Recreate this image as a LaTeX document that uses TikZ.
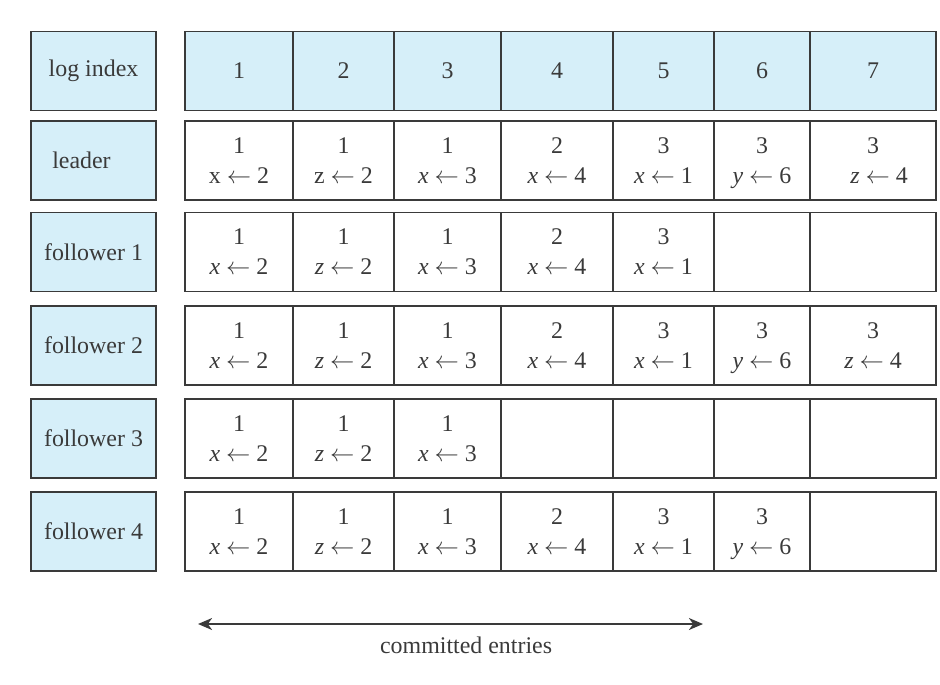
\documentclass[tikz,border=0pt]{standalone}
\usepackage{fontspec}
\setmainfont{Liberation Serif}
\usetikzlibrary{arrows.meta, positioning}
\definecolor{cellblue}{HTML}{D6EFF9}
\definecolor{ink}{HTML}{3A3A3A}

\begin{document}
\begin{tikzpicture}[x=0.025cm, y=-0.025cm, >={Stealth[length=10pt, width=8.5pt, inset=3pt]},
    text=ink, font=\fontsize{17}{21.3}\selectfont]
    \tikzstyle{rowname} = [draw=ink, fill=cellblue, line width=0.9pt, minimum width=3.125cm,
        minimum height=1.975cm, inner sep=0pt, align=center]
    \tikzstyle{entry} = [draw=ink, line width=1.2pt, minimum height=1.975cm, inner sep=0pt,
        align=center, text height=1.175cm, text depth=0.05cm]
    \useasboundingbox (0,0) rectangle (940,684);
    % row names
    \node [rowname] at (93.5,71) (idx) {log index};
    \node [rowname] at (93.5,160.5) (leader) {leader\hspace*{0.6cm}};
    \node [rowname] at (93.5,252) (f1) {follower 1};
    \node [rowname] at (93.5,345.5) (f2) {follower 2};
    \node [rowname] at (93.5,438.5) (f3) {follower 3};
    \node [rowname] at (93.5,531.5) (f4) {follower 4};
    % log entries, columns have their own widths
    \foreach \t [count=\c] in {1,2,3,4,5,6,7} {
        \pgfmathsetmacro\cx{{239,343.5,447.5,557,663.5,762,873}[\c-1]}
        \pgfmathsetmacro\cw{{108,101,107,112,101,96,126}[\c-1]}
        \node [entry, fill=cellblue, minimum width=\cw*0.025cm, text height=, text depth=]
            at (\cx,71) (e0-\c) {\t};
    }
    \foreach \t [count=\c] in {{1\\x $\leftarrow$ 2}, {1\\z $\leftarrow$ 2},
        {1\\\textit{x} $\leftarrow$ 3}, {2\\\textit{x} $\leftarrow$ 4},
        {3\\\textit{x} $\leftarrow$ 1}, {3\\\textit{y} $\leftarrow$ 6},
        {3\\\hspace*{0.3cm}\textit{z} $\leftarrow$ 4}} {
        \pgfmathsetmacro\cx{{239,343.5,447.5,557,663.5,762,873}[\c-1]}
        \pgfmathsetmacro\cw{{108,101,107,112,101,96,126}[\c-1]}
        \node [entry, minimum width=\cw*0.025cm] at (\cx,160.5) (e1-\c) {\t};
    }
    \foreach \t [count=\c] in {{1\\\textit{x} $\leftarrow$ 2}, {1\\\textit{z} $\leftarrow$ 2},
        {1\\\textit{x} $\leftarrow$ 3}, {2\\\textit{x} $\leftarrow$ 4},
        {3\\\textit{x} $\leftarrow$ 1}, {}, {}} {
        \pgfmathsetmacro\cx{{239,343.5,447.5,557,663.5,762,873}[\c-1]}
        \pgfmathsetmacro\cw{{108,101,107,112,101,96,126}[\c-1]}
        \node [entry, minimum width=\cw*0.025cm] at (\cx,252) (e2-\c) {\t};
    }
    \foreach \t [count=\c] in {{1\\\textit{x} $\leftarrow$ 2}, {1\\\textit{z} $\leftarrow$ 2},
        {1\\\textit{x} $\leftarrow$ 3}, {2\\\textit{x} $\leftarrow$ 4},
        {3\\\textit{x} $\leftarrow$ 1}, {3\\\textit{y} $\leftarrow$ 6},
        {3\\\textit{z} $\leftarrow$ 4}} {
        \pgfmathsetmacro\cx{{239,343.5,447.5,557,663.5,762,873}[\c-1]}
        \pgfmathsetmacro\cw{{108,101,107,112,101,96,126}[\c-1]}
        \node [entry, minimum width=\cw*0.025cm] at (\cx,345.5) (e3-\c) {\t};
    }
    \foreach \t [count=\c] in {{1\\\textit{x} $\leftarrow$ 2}, {1\\\textit{z} $\leftarrow$ 2},
        {1\\\textit{x} $\leftarrow$ 3}, {}, {}, {}, {}} {
        \pgfmathsetmacro\cx{{239,343.5,447.5,557,663.5,762,873}[\c-1]}
        \pgfmathsetmacro\cw{{108,101,107,112,101,96,126}[\c-1]}
        \node [entry, minimum width=\cw*0.025cm] at (\cx,438.5) (e4-\c) {\t};
    }
    \foreach \t [count=\c] in {{1\\\textit{x} $\leftarrow$ 2}, {1\\\textit{z} $\leftarrow$ 2},
        {1\\\textit{x} $\leftarrow$ 3}, {2\\\textit{x} $\leftarrow$ 4},
        {3\\\textit{x} $\leftarrow$ 1}, {3\\\textit{y} $\leftarrow$ 6}, {}} {
        \pgfmathsetmacro\cx{{239,343.5,447.5,557,663.5,762,873}[\c-1]}
        \pgfmathsetmacro\cw{{108,101,107,112,101,96,126}[\c-1]}
        \node [entry, minimum width=\cw*0.025cm] at (\cx,531.5) (e5-\c) {\t};
    }
    % committed span
    \coordinate (cl) at (198,624);
    \coordinate (cr) at (703,624);
    \draw [<->, draw=ink, line width=1.4pt] (cl) -- (cr);
    \node [below=0.2cm of cl, xshift=6.7cm] (committed) {committed entries};
\end{tikzpicture}
\end{document}
